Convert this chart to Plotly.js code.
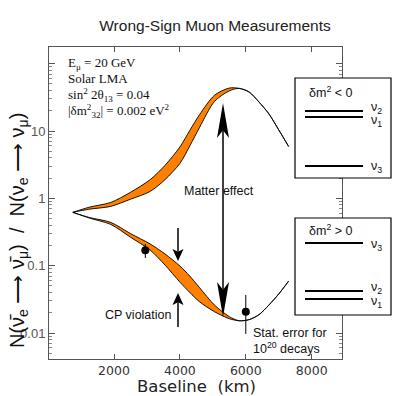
<!DOCTYPE html>
<html>
<head>
<meta charset="utf-8">
<script src="https://cdn.plot.ly/plotly-3.0.1.min.js"></script>
<style>body{margin:0;background:#fff}#plot{width:393px;height:396px}</style>
</head>
<body>
<div id="plot"></div>
<script>
// baseline points (km)
const baseline = [750, 1250, 1900, 2500, 3100, 3550, 4000, 4300, 4600, 5050, 5500, 5800, 6100, 6400, 6700, 7000, 7300];

// upper branch: band edges, they meet again near 5800 km and run on as one line
const upperTop = [0.62, 0.74, 0.87, 1.23, 1.9, 3.1, 5.8, 10.2, 17.6, 34, 43.5, 43, 38, 27, 18, 10.4, 5.9];
const upperBottom = [0.62, 0.69, 0.76, 0.97, 1.27, 1.9, 3.3, 6.0, 11.4, 27.5, 39.5, 43, 38, 27, 18, 10.4, 5.9];

// lower branch
const lowerTop = [0.62, 0.52, 0.44, 0.30, 0.21, 0.149, 0.099, 0.070, 0.047, 0.026, 0.0175, 0.0152, 0.0158, 0.0187, 0.026, 0.038, 0.059];
const lowerBottom = [0.62, 0.51, 0.41, 0.265, 0.17, 0.102, 0.057, 0.040, 0.029, 0.0207, 0.0163, 0.0152, 0.0158, 0.0187, 0.026, 0.038, 0.059];

// points with stat. errors
const dotX = [2950, 6000];
const dotY = [0.17, 0.0207];
const dotErrPlus = [0.04, 0.016];
const dotErrMinus = [0.04, 0.011];

const yTickVals = [0.01, 0.1, 1, 10, 100];
const yTickText = ['0.01', '0.1', '1', '10', ''];
const xTickVals = [2000, 4000, 6000, 8000];

const orange = '#ff8000';

function edge(vals, fill) {
  let t = {
    x: baseline, y: vals, type: 'scatter', mode: 'lines',
    line: {color: '#000', width: 0.9, shape: 'spline', smoothing: 0.8}, hoverinfo: 'skip'
  };
  if (fill) { t.fill = 'tonexty'; t.fillcolor = orange; }
  return t;
}

let dots = {
  x: dotX, y: dotY, type: 'scatter', mode: 'markers',
  marker: {color: '#000', size: 8},
  error_y: {type: 'data', symmetric: false, array: dotErrPlus, arrayminus: dotErrMinus,
            color: '#000', thickness: 1, width: 0}
};

let minorVals = [];
[0.001, 0.01, 0.1, 1, 10, 100].forEach(d => {
  for (let k = 2; k <= 9; k++) minorVals.push(d * k);
});

// pixel -> paper helpers for decorations
const L = 49, R = 342, T = 47, B = 359;
const px = v => (v - L) / (R - L);
const py = v => (B - v) / (B - T);

let annotations = [
  // parameter block
  {x: px(66), y: py(63), text: 'E<sub>μ</sub> = 20 GeV'},
  {x: px(66), y: py(79), text: 'Solar LMA'},
  {x: px(66), y: py(95), text: 'sin<sup>2</sup> 2θ<sub>13</sub> = 0.04'},
  {x: px(66), y: py(111), text: '|δm<sup>2</sup><sub>32</sub>| = 0.002 eV<sup>2</sup>'}
].map(a => Object.assign(a, {xref: 'paper', yref: 'paper', xanchor: 'left', yanchor: 'middle',
  showarrow: false, font: {family: 'Liberation Serif', size: 13, color: '#111'}}));

let sansNotes = [
  {x: px(219), y: py(191), text: 'Matter effect', xanchor: 'center'},
  {x: px(138), y: py(315), text: 'CP violation', xanchor: 'center'},
  {x: px(251), y: py(333), text: 'Stat. error for', xanchor: 'left'},
  {x: px(251), y: py(348), text: '10<sup>20</sup> decays', xanchor: 'left'}
].map(a => Object.assign(a, {xref: 'paper', yref: 'paper', yanchor: 'middle', showarrow: false,
  font: {family: 'Liberation Sans', size: 12.5, color: '#111'}}));
annotations = annotations.concat(sansNotes);

// axis titles as annotations (placed where the reference has them)
annotations.push({
  xref: 'paper', yref: 'paper', x: px(18), y: py(231), textangle: -90, showarrow: false,
  xanchor: 'center', yanchor: 'middle',
  text: 'N(ν\u0304<sub>e</sub> ⟶ ν\u0304<sub>μ</sub>)  /  N(ν<sub>e</sub> ⟶ ν<sub>μ</sub>)',
  font: {family: 'Liberation Sans', size: 20, color: '#111'}
});
annotations.push({
  xref: 'paper', yref: 'paper', x: px(196), y: py(386), showarrow: false,
  xanchor: 'center', yanchor: 'middle', text: 'Baseline  (km)',
  font: {family: 'DejaVu Sans', size: 16.5, color: '#222'}
});

let shapes = [];

// arrows: shaft + slender notched head, in pixel terms
function arrow(x, y0, y1, len, halfW) {
  let dir = y1 > y0 ? 1 : -1;       // head at y1
  let base = y1 - dir * len, notch = y1 - dir * len * 0.78;
  shapes.push({type: 'line', xref: 'paper', yref: 'paper', x0: px(x), x1: px(x),
    y0: py(y0), y1: py(notch), line: {color: '#000', width: 1.5}});
  shapes.push({type: 'path', xref: 'paper', yref: 'paper', fillcolor: '#000', line: {width: 0},
    path: 'M' + px(x) + ',' + py(y1) + ' L' + px(x - halfW) + ',' + py(base) +
          ' L' + px(x) + ',' + py(notch) + ' L' + px(x + halfW) + ',' + py(base) + ' Z'});
}
// matter effect: double headed
arrow(223, 210, 103, 35, 6);
arrow(223, 210, 317, 35, 6);
// CP violation pair
arrow(178, 228, 261, 12, 5.5);
arrow(178, 327, 293, 12, 5.5);

// level diagrams on the right
let boxes = [
  {top: 78, bottom: 178, title: 'δm<sup>2</sup> &lt; 0', titleY: 92,
   levels: [{y: 111, lab: 'ν<sub>2</sub>', ly: 108}, {y: 117, lab: 'ν<sub>1</sub>', ly: 121}, {y: 166, lab: 'ν<sub>3</sub>', ly: 167}]},
  {top: 218, bottom: 315, title: 'δm<sup>2</sup> &gt; 0', titleY: 230,
   levels: [{y: 243, lab: 'ν<sub>3</sub>', ly: 245}, {y: 291, lab: 'ν<sub>2</sub>', ly: 288}, {y: 299, lab: 'ν<sub>1</sub>', ly: 302}]}
];
boxes.forEach(b => {
  shapes.push({type: 'rect', xref: 'paper', yref: 'paper', x0: px(295), x1: px(391),
    y0: py(b.bottom), y1: py(b.top), fillcolor: '#fff', line: {color: '#000', width: 1.2}, layer: 'above'});
  annotations.push({xref: 'paper', yref: 'paper', x: px(330), y: py(b.titleY), text: b.title,
    showarrow: false, xanchor: 'center', yanchor: 'middle',
    font: {family: 'Liberation Sans', size: 12.5, color: '#111'}});
  b.levels.forEach(l => {
    shapes.push({type: 'line', xref: 'paper', yref: 'paper', x0: px(305), x1: px(363),
      y0: py(l.y), y1: py(l.y), line: {color: '#000', width: 2}, layer: 'above'});
    annotations.push({xref: 'paper', yref: 'paper', x: px(369), y: py(l.ly), text: l.lab,
      showarrow: false, xanchor: 'left', yanchor: 'middle',
      font: {family: 'Liberation Sans', size: 12.5, color: '#111'}});
  });
});

let data = [edge(upperBottom), edge(upperTop, true), edge(lowerBottom), edge(lowerTop, true), dots];

let layout = {
  width: 393, height: 396,
  margin: {l: L, r: 393 - R, t: T, b: 396 - B},
  showlegend: false,
  paper_bgcolor: '#fff', plot_bgcolor: '#fff',
  title: {text: 'Wrong-Sign Muon Measurements', x: px(215), xref: 'paper', xanchor: 'center',
          y: 1 - 26 / 396, yref: 'container', yanchor: 'middle',
          font: {family: 'Liberation Sans', size: 15.5, color: '#222'}},
  xaxis: {
    range: [27, 8920], tickvals: xTickVals, ticks: 'inside', ticklen: 5, tickcolor: '#555',
    showline: true, linecolor: '#555', mirror: 'ticks', showgrid: false, zeroline: false,
    tickfont: {family: 'DejaVu Sans', size: 12.5, color: '#333'}
  },
  yaxis: {
    type: 'log', range: [-2.386, 2.248], tickvals: yTickVals, ticktext: yTickText,
    ticks: 'inside', ticklen: 6, tickcolor: '#555',
    minor: {tickvals: minorVals, ticks: 'inside', ticklen: 3, tickcolor: '#888'},
    showline: true, linecolor: '#555', mirror: 'ticks', showgrid: false, zeroline: false,
    tickfont: {family: 'Liberation Sans', size: 13, color: '#555'}
  },
  annotations: annotations,
  shapes: shapes
};

Plotly.newPlot('plot', data, layout, {displayModeBar: false, staticPlot: true});
</script>
</body>
</html>
